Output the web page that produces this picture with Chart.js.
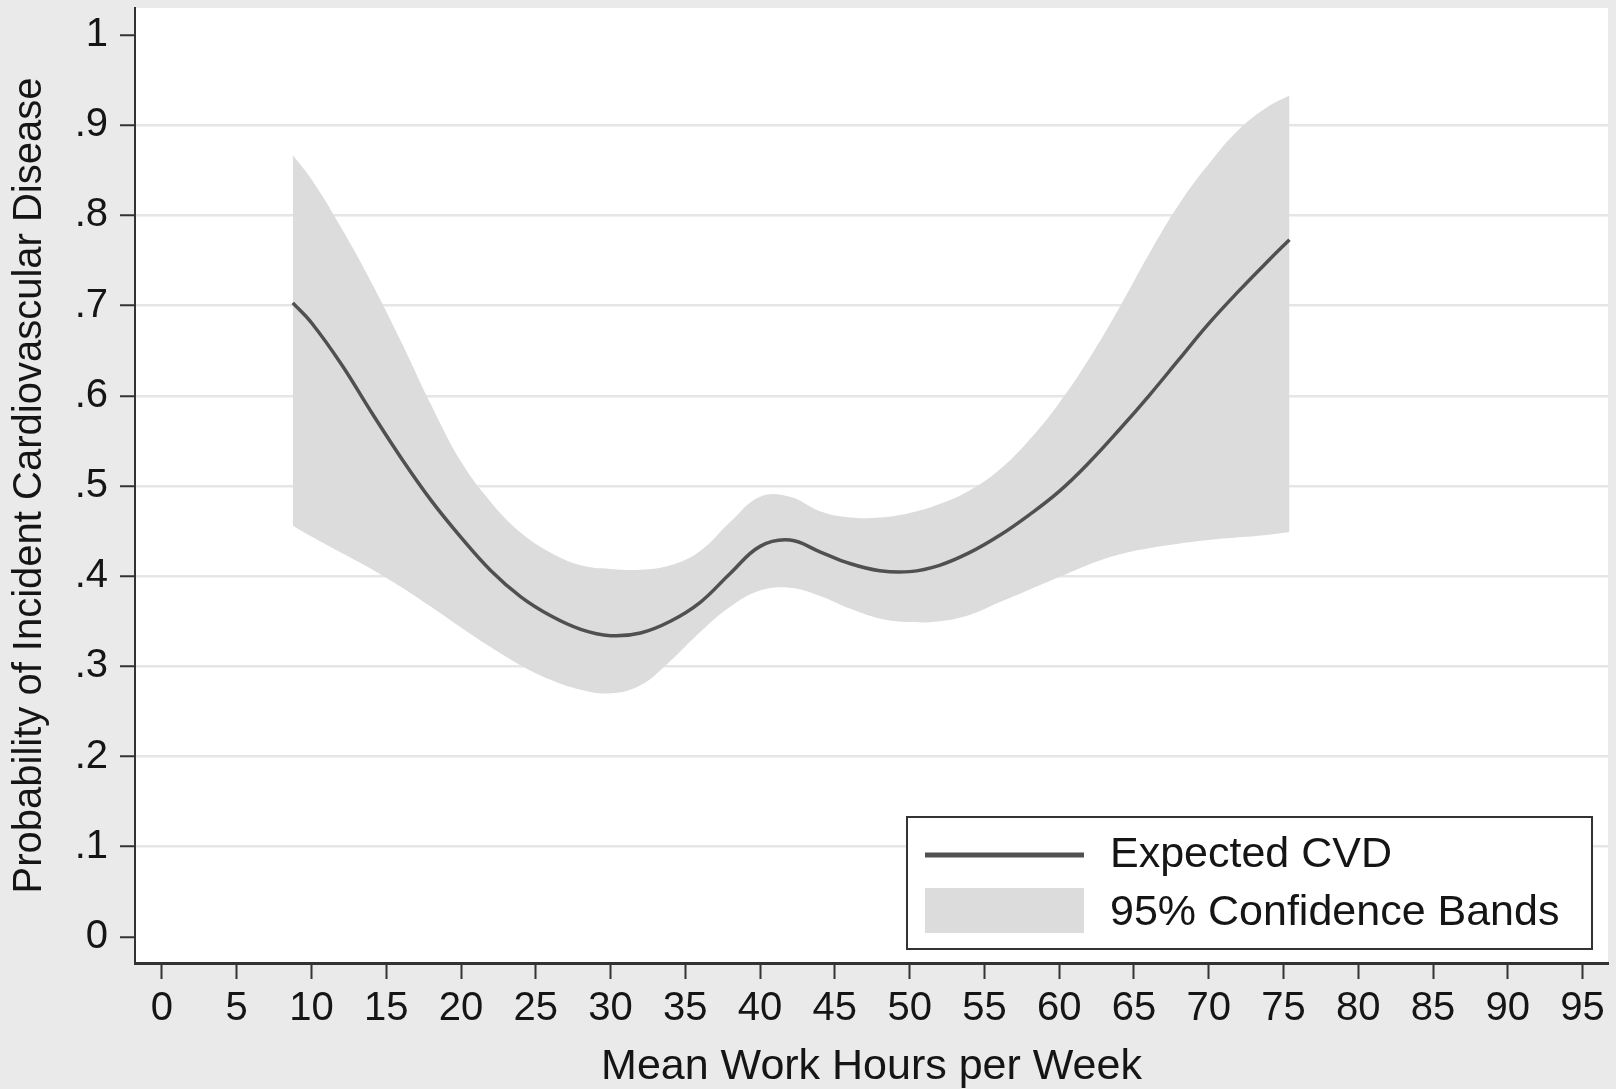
<!DOCTYPE html>
<html>
<head>
<meta charset="utf-8">
<script src="https://cdn.jsdelivr.net/npm/chart.js@4/dist/chart.umd.min.js"></script>
<style>
  html, body { margin: 0; padding: 0; background: #eaeaea; }
  canvas { display: block; }
</style>
</head>
<body>
<canvas id="cvd" width="1616" height="1089"></canvas>
<script>
// Mean work hours per week (x) and the fitted probability of incident CVD
const hours = [8.75, 10, 12, 14, 16, 18, 20, 22, 24, 26, 28, 30, 32, 34, 36, 38, 40, 42, 44, 46, 48, 50, 52, 54, 56, 58, 60, 62, 64, 66, 68, 70, 72, 74, 75.4];
const expectedCvd = [0.703, 0.681, 0.635, 0.582, 0.531, 0.484, 0.443, 0.406, 0.377, 0.356, 0.341, 0.334, 0.337, 0.350, 0.371, 0.403, 0.433, 0.440, 0.427, 0.414, 0.406, 0.405, 0.412, 0.426, 0.445, 0.468, 0.494, 0.526, 0.562, 0.600, 0.640, 0.680, 0.716, 0.750, 0.773];
const upperBand = [0.867, 0.840, 0.786, 0.726, 0.660, 0.590, 0.527, 0.482, 0.448, 0.426, 0.412, 0.408, 0.407, 0.412, 0.428, 0.460, 0.488, 0.488, 0.472, 0.465, 0.465, 0.470, 0.480, 0.495, 0.518, 0.551, 0.592, 0.641, 0.697, 0.757, 0.812, 0.857, 0.895, 0.921, 0.933];
const lowerBand = [0.456, 0.444, 0.426, 0.408, 0.388, 0.366, 0.343, 0.321, 0.301, 0.285, 0.274, 0.270, 0.279, 0.306, 0.338, 0.366, 0.384, 0.387, 0.378, 0.364, 0.353, 0.349, 0.350, 0.357, 0.371, 0.385, 0.399, 0.413, 0.424, 0.431, 0.436, 0.440, 0.443, 0.446, 0.449];

// Axis ticks
const xTickValues = [0, 5, 10, 15, 20, 25, 30, 35, 40, 45, 50, 55, 60, 65, 70, 75, 80, 85, 90, 95];
const yTickValues = [0, 0.1, 0.2, 0.3, 0.4, 0.5, 0.6, 0.7, 0.8, 0.9, 1];
const yTickLabels = ['0', '.1', '.2', '.3', '.4', '.5', '.6', '.7', '.8', '.9', '1'];

const FONT = "'Liberation Sans', Arial, Helvetica, sans-serif";
const INK = '#151515';
const AXIS = '#333333';
const BAND = '#dcdcdc';
const LINE = '#505050';

const toPoints = ys => hours.map((h, i) => ({ x: h, y: ys[i] }));

// Grey page, white plot region
const backdrop = {
  id: 'backdrop',
  beforeDraw(chart) {
    const { ctx, chartArea: a } = chart;
    ctx.save();
    ctx.fillStyle = '#eaeaea';
    ctx.fillRect(0, 0, chart.width, chart.height);
    ctx.fillStyle = '#ffffff';
    ctx.fillRect(a.left, a.top, a.right - a.left, a.bottom - a.top);
    ctx.restore();
  }
};

// Boxed legend in the lower right of the plot region
const boxLegend = {
  id: 'boxLegend',
  afterDraw(chart) {
    const { ctx, chartArea: a } = chart;
    const sets = chart.data.datasets;
    const w = 685, h = 132;
    const right = a.right - 16, bottom = a.bottom - 14;
    const left = right - w, top = bottom - h;
    ctx.save();
    ctx.fillStyle = '#ffffff';
    ctx.fillRect(left, top, w, h);
    ctx.strokeStyle = AXIS;
    ctx.lineWidth = 2;
    ctx.strokeRect(left, top, w, h);

    const sx0 = left + 18, sx1 = left + 177;
    const row1 = top + 38, row2 = top + 96;
    // line sample
    ctx.strokeStyle = sets[0].borderColor;
    ctx.lineWidth = 5;
    ctx.beginPath();
    ctx.moveTo(sx0, row1);
    ctx.lineTo(sx1, row1);
    ctx.stroke();
    // band sample
    ctx.fillStyle = sets[1].backgroundColor;
    ctx.fillRect(sx0, top + 71, sx1 - sx0, 45);

    ctx.fillStyle = INK;
    ctx.font = '43px ' + FONT;
    ctx.textBaseline = 'middle';
    ctx.textAlign = 'left';
    ctx.fillText(sets[0].label, left + 203, row1);
    ctx.fillText(sets[1].label, left + 203, row2);
    ctx.restore();
  }
};

new Chart(document.getElementById('cvd'), {
  type: 'line',
  data: {
    datasets: [
      {
        label: 'Expected CVD',
        data: toPoints(expectedCvd),
        borderColor: LINE,
        borderWidth: 3.5,
        pointRadius: 0,
        fill: false,
        tension: 0.4
      },
      {
        label: '95% Confidence Bands',
        data: toPoints(upperBand),
        borderColor: 'rgba(0,0,0,0)',
        borderWidth: 0,
        backgroundColor: BAND,
        pointRadius: 0,
        fill: '+1',
        tension: 0.4
      },
      {
        label: 'lower',
        data: toPoints(lowerBand),
        borderColor: 'rgba(0,0,0,0)',
        borderWidth: 0,
        backgroundColor: BAND,
        pointRadius: 0,
        fill: false,
        tension: 0.4
      }
    ]
  },
  options: {
    responsive: false,
    animation: false,
    events: [],
    layout: { padding: { top: 8, right: 8, left: 0, bottom: 0 } },
    plugins: { legend: { display: false }, tooltip: { enabled: false } },
    scales: {
      x: {
        type: 'linear',
        min: -1.8,
        max: 96.7,
        afterBuildTicks: s => { s.ticks = xTickValues.map(v => ({ value: v })); },
        afterFit: s => { s.height = 126; s.paddingLeft = 0; s.paddingRight = 0; },
        grid: { drawOnChartArea: false, drawTicks: true, tickLength: 16, tickColor: AXIS, tickWidth: 2 },
        border: { color: AXIS, width: 3 },
        ticks: {
          font: { family: FONT, size: 40 },
          color: INK,
          padding: 6,
          maxRotation: 0,
          autoSkip: false,
          callback: v => String(v)
        },
        title: {
          display: true,
          text: 'Mean Work Hours per Week',
          font: { family: FONT, size: 43, lineHeight: 1 },
          color: INK,
          padding: { top: 0, bottom: 0 }
        }
      },
      y: {
        type: 'linear',
        min: -0.029,
        max: 1.03,
        afterBuildTicks: s => { s.ticks = yTickValues.map(v => ({ value: v })); },
        afterFit: s => { s.width = 135; s.paddingTop = 0; s.paddingBottom = 0; },
        grid: {
          color: c => (c.tick && c.tick.value > 0.05 && c.tick.value < 0.95) ? '#e6e6e6' : 'rgba(0,0,0,0)',
          lineWidth: 2.5,
          drawTicks: true,
          tickLength: 15,
          tickColor: AXIS,
          tickWidth: 2
        },
        border: { color: AXIS, width: 2 },
        ticks: {
          font: { family: FONT, size: 40 },
          color: INK,
          padding: 12,
          autoSkip: false,
          callback: v => {
            const i = yTickValues.findIndex(t => Math.abs(t - v) < 1e-6);
            return i >= 0 ? yTickLabels[i] : '';
          }
        },
        title: {
          display: true,
          text: 'Probability of Incident Cardiovascular Disease',
          font: { family: FONT, size: 40, lineHeight: 1.2 },
          color: INK,
          padding: { top: 6, bottom: 0 }
        }
      }
    }
  },
  plugins: [backdrop, boxLegend]
});
</script>
</body>
</html>
